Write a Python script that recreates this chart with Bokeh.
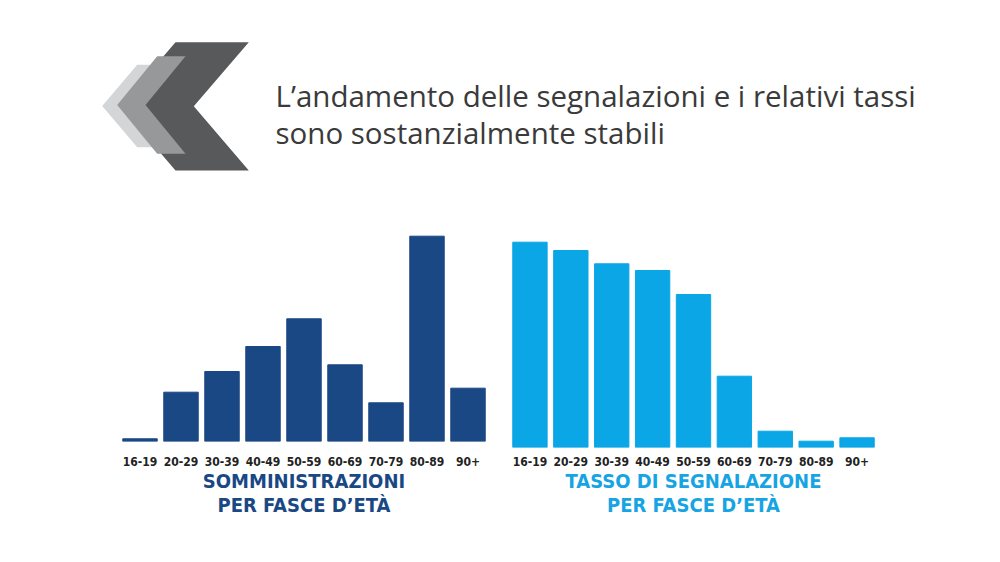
from bokeh.plotting import figure
from bokeh.layouts import column, row
from bokeh.models import Range1d, FactorRange, Title
from bokeh.core.properties import value
from bokeh.embed import file_html
from bokeh.resources import INLINE

# ---- data ----
age_groups = ["16-19", "20-29", "30-39", "40-49", "50-59", "60-69", "70-79", "80-89", "90+"]
somministrazioni = [2.7, 49.3, 70, 95, 122.7, 76.7, 38.7, 205.3, 53.3]
tasso_segnalazione = [205.3, 197, 183.7, 177, 153, 71.3, 16.3, 6.3, 9.7]

title_lines = ["L\u2019andamento delle segnalazioni e i relativi tassi",
               "sono sostanzialmente stabili"]
left_title = ["SOMMINISTRAZIONI", "PER FASCE D\u2019ET\u00c0"]
right_title = ["TASSO DI SEGNALAZIONE", "PER FASCE D\u2019ET\u00c0"]

NAVY = "#1a4884"
CYAN = "#0aa6e6"
COND = "DejaVu Sans Condensed, Roboto, sans-serif"

# ---- header ----
HW, HH = 992, 200
hdr = figure(width=HW, height=HH, x_range=Range1d(0, HW), y_range=Range1d(HH, 0),
             x_axis_location=None, y_axis_location=None, toolbar_location=None,
             output_backend="svg", min_border=0)
hdr.grid.visible = False
hdr.outline_line_color = None

def chevron(xl, w, d, top, bot):
    mid = (top + bot) / 2
    return ([xl, xl + w, xl + w - d, xl + w, xl, xl - d],
            [top, top, mid, bot, bot, mid])

shapes = [chevron(136.7, 28, 35, 64.3, 146.7),
          chevron(175, 73.3, 55, 41.7, 170),
          chevron(156.7, 28.3, 40, 55.7, 153.3)]
cols = ["#d4d5d6", "#58595b", "#97989a"]
hdr.patches([s[0] for s in shapes], [s[1] for s in shapes], fill_color=cols, line_color=None)

hdr.text(x=[275, 275], y=[95, 131.7], text=title_lines,
         text_font=value("Open Sans"), text_font_size="29.5px", text_color="#3a3a3a",
         text_baseline="alphabetic", text_align="left")

# ---- bar charts ----
FH = 354

def bar_chart(vals, color, title, width, bl, br, bt, bb, standoff, tcolor):
    p = figure(width=width, height=FH, x_range=FactorRange(*age_groups), y_range=Range1d(0, 216),
               y_axis_location=None, toolbar_location=None, output_backend="svg",
               min_border_left=bl, min_border_right=br, min_border_top=bt, min_border_bottom=bb,
               frame_align=False)
    p.vbar(x=age_groups, top=vals, width=0.84, color=color)
    p.grid.visible = False
    p.outline_line_color = None
    ax = p.xaxis[0]
    ax.axis_line_color = None
    ax.major_tick_line_color = None
    ax.minor_tick_line_color = None
    ax.major_label_text_font = COND
    ax.major_label_text_font_style = "bold"
    ax.major_label_text_font_size = "12px"
    ax.major_label_text_color = "#222222"
    ax.major_label_standoff = standoff
    for i, t in enumerate(title):
        p.add_layout(Title(text=t, align="center", text_font=COND, text_font_style="bold",
                           text_font_size="20px", text_color=tcolor,
                           standoff=-4 if i == 0 else 0, offset=0), "below")
    return p

left = bar_chart(somministrazioni, NAVY, left_title, 500, 119, 12, 25, 113, 9, NAVY)
right = bar_chart(tasso_segnalazione, CYAN, right_title, 492, 9, 115, 31, 107, 3, "#17a4e2")

layout = column(hdr, row(left, right))
open("out.html", "w").write(file_html(layout, INLINE))
